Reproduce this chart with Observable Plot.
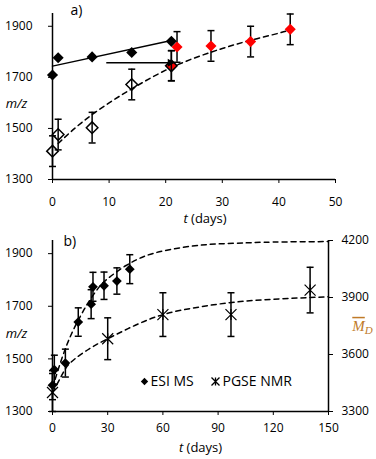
<!DOCTYPE html>
<html><head><meta charset="utf-8">
<script src="https://cdn.jsdelivr.net/npm/d3@7"></script>
<script src="https://cdn.jsdelivr.net/npm/@observablehq/plot@0.6"></script>
<style>
body{margin:0;background:#fff;}
#chart{width:376px;}
#chart svg{display:block;}
</style></head><body><div id="chart"></div>
<script>
// ---------- Panel a ----------
const aTicksX = [0, 10, 20, 30, 40, 50];
const aTicksY = [1300, 1500, 1700, 1900];
const aBlackT = [0, 1, 7, 14, 21];
const aBlackM = [1709, 1777, 1780, 1797, 1841];
const aLineT = [0, 21];
const aLineM = [1744, 1844];
const aOpenT = [0, 1, 7, 14, 21];
const aOpenM = [1411, 1476, 1503, 1672, 1745];
const aOpenErr = [60, 60, 60, 60, 59];
const aRedT = [21, 22, 28, 35, 42];
const aRedM = [1746, 1819, 1823, 1840, 1888];
const aRedErr = [59, 60, 60, 60, 60];
const aArrowT = [9.5, 21.3];
const aArrowM = [1757, 1757];
const aFitT = [1, 5, 10, 15, 20, 25, 30, 35, 40, 42];
const aFitM = [1441, 1520, 1600, 1668, 1728, 1775, 1813, 1845, 1873, 1886];

// ---------- Panel b ----------
const bTicksX = [0, 30, 60, 90, 120, 150];
const bTicksY = [1300, 1500, 1700, 1900];
const bTicksR = [3300, 3600, 3900, 4200];
const esiT = [0, 1, 7, 14, 21, 22, 28, 35, 42];
const esiM = [1400, 1459, 1484, 1640, 1708, 1774, 1778, 1796, 1841];
const esiErr = [55, 55, 53, 54, 55, 55, 52, 50, 55];
const nmrT = [0, 30, 60, 97, 140];
const nmrM = [3400, 3683, 3810, 3810, 3939];
const nmrErr = [100, 110, 115, 115, 120];
const esiFitT = [0, 5, 10, 15, 20, 25, 30, 40, 50, 60, 75, 90, 105, 120, 150];
const esiFitM = [1390, 1500, 1590, 1660, 1720, 1770, 1805, 1855, 1890, 1910, 1928, 1937, 1941, 1944, 1946];
const nmrFitT = [0, 5, 10, 20, 30, 45, 60, 75, 90, 105, 120, 135, 150];
const nmrFitM = [3400, 3490, 3559, 3630, 3683, 3754, 3810, 3842, 3865, 3881, 3891, 3898, 3904];

const rows = (ts, ms, es) => ts.map((t, i) => ({t, m: ms[i], e: es ? es[i] : 0}));
// right axis (M_D) mapped onto left (m/z) scale
const toLeft = v => 1300 + (v - 3300) * (650 / 900);
const toRight = v => 3300 + (v - 1300) * (900 / 650);

const font = "'Open Sans', sans-serif";
const capSym = {draw(ctx, size) { const r = Math.sqrt(size / Math.PI); ctx.moveTo(-r, 0); ctx.lineTo(r, 0); }};
const starSym = {draw(ctx, size) { const r = Math.sqrt(size / Math.PI);
  ctx.moveTo(-r, -r); ctx.lineTo(r, r); ctx.moveTo(-r, r); ctx.lineTo(r, -r); ctx.moveTo(0, -r); ctx.lineTo(0, r); }};

function errorMarks(data, yf) {
  const f = yf || (v => v);
  return [
    Plot.ruleX(data, {x: "t", y1: d => f(d.m - d.e), y2: d => f(d.m + d.e), stroke: "black", strokeWidth: 1.5}),
    Plot.dot(data, {x: "t", y: d => f(d.m + d.e), symbol: capSym, r: 3.5, stroke: "black", strokeWidth: 1.5, fill: "none"}),
    Plot.dot(data, {x: "t", y: d => f(d.m - d.e), symbol: capSym, r: 3.5, stroke: "black", strokeWidth: 1.5, fill: "none"})
  ];
}

const aBlack = rows(aBlackT, aBlackM);
const aLine = rows(aLineT, aLineM);
const aOpen = rows(aOpenT, aOpenM, aOpenErr);
const aRed = rows(aRedT, aRedM, aRedErr);
const aFit = rows(aFitT, aFitM);
const aArrow = [{t1: aArrowT[0], t2: aArrowT[1], m1: aArrowM[0], m2: aArrowM[1]}];

const plotA = Plot.plot({
  width: 376, height: 228, marginLeft: 52, marginRight: 41, marginTop: 13, marginBottom: 49,
  style: {fontFamily: font, fontSize: "12px", background: "white", color: "black"},
  x: {domain: [0, 50], ticks: aTicksX, tickSize: 4, tickPadding: 14, label: null, tickFormat: d => String(d)},
  y: {domain: [1300, 1950], ticks: aTicksY, tickSize: 4, tickPadding: 16, label: null, tickFormat: d => String(d)},
  marks: [
    Plot.ruleX([0], {strokeWidth: 1.5}),
    Plot.ruleY([1300], {strokeWidth: 1.5}),
    Plot.line(aFit, {x: "t", y: "m", curve: "natural", stroke: "black", strokeDasharray: "5,4", strokeWidth: 1.5}),
    Plot.line(aLine, {x: "t", y: "m", stroke: "black", strokeWidth: 1.5}),
    Plot.link(aArrow, {x1: "t1", x2: "t2", y1: "m1", y2: "m2", stroke: "black", strokeWidth: 1.5}),
    ...errorMarks(aRed),
    Plot.dot(aRed, {x: "t", y: "m", symbol: "diamond2", r: 5, fill: "#ff0000"}),
    ...errorMarks(aOpen),
    Plot.dot(aOpen, {x: "t", y: "m", symbol: "diamond2", r: 5.2, fill: "none", stroke: "black", strokeWidth: 1.5}),
    Plot.dot(aArrow, {x: "t2", y: "m2", symbol: "triangle2", rotate: 90, r: 3.8, fill: "black", dx: -3}),
    Plot.dot(aBlack, {x: "t", y: "m", symbol: "diamond2", r: 5, fill: "black"}),
    Plot.text(["m/z"], {frameAnchor: "left", dx: -36, dy: 7, fontStyle: "italic", fontSize: 13, textAnchor: "middle"}),
    Plot.text(["t (days)"], {frameAnchor: "bottom", lineAnchor: "middle", dx: 11, dy: 39, fontSize: 13}),
    Plot.text(["a)"], {frameAnchor: "top-left", lineAnchor: "middle", textAnchor: "start", dx: 18, dy: -2.5, fontSize: 14})
  ]
});

const esi = rows(esiT, esiM, esiErr);
const nmr = rows(nmrT, nmrM, nmrErr);
const esiFit = rows(esiFitT, esiFitM);
const nmrFit = rows(nmrFitT, nmrFitM);

const plotB = Plot.plot({
  width: 376, height: 231, marginLeft: 52, marginRight: 48, marginTop: 12, marginBottom: 48,
  style: {fontFamily: font, fontSize: "12px", background: "white", color: "black"},
  x: {domain: [0, 150], ticks: bTicksX, tickSize: 4, tickPadding: 8, label: null, tickFormat: d => String(d)},
  y: {domain: [1300, 1950], label: null},
  marks: [
    Plot.axisY(bTicksY, {anchor: "left", tickSize: 4, tickPadding: 16, label: null, tickFormat: d => String(d)}),
    Plot.axisY(bTicksR.map(toLeft), {anchor: "right", tickSize: 4, tickPadding: 9, label: null,
      tickFormat: d => String(Math.round(toRight(d)))}),
    Plot.ruleX([0], {strokeWidth: 1.5}),
    Plot.ruleX([150], {strokeWidth: 1.5}),
    Plot.ruleY([1300], {strokeWidth: 1.5}),
    Plot.line(esiFit, {x: "t", y: "m", curve: "natural", stroke: "black", strokeDasharray: "5,4", strokeWidth: 1.5}),
    Plot.line(nmrFit, {x: "t", y: d => toLeft(d.m), curve: "natural", stroke: "black", strokeDasharray: "5,4", strokeWidth: 1.5}),
    ...errorMarks(nmr, toLeft),
    Plot.dot(nmr, {x: "t", y: d => toLeft(d.m), symbol: starSym, r: 5.5, stroke: "black", strokeWidth: 1.2, fill: "none"}),
    ...errorMarks(esi),
    Plot.dot(esi, {x: "t", y: "m", symbol: "diamond2", r: 4.4, fill: "black"}),
    // legend
    Plot.dot([0], {frameAnchor: "bottom-left", dx: 92, dy: -30, symbol: "diamond2", r: 3.3, fill: "black"}),
    Plot.text(["ESI MS"], {frameAnchor: "bottom-left", lineAnchor: "middle", textAnchor: "start", dx: 98, dy: -30, fontSize: 14}),
    Plot.dot([0], {frameAnchor: "bottom-left", dx: 163, dy: -30, symbol: starSym, r: 4, stroke: "black", strokeWidth: 1.3, fill: "none"}),
    Plot.text(["PGSE NMR"], {frameAnchor: "bottom-left", lineAnchor: "middle", textAnchor: "start", dx: 170, dy: -30, fontSize: 14}),
    // labels
    Plot.text(["m/z"], {frameAnchor: "left", dx: -36, dy: 8, fontStyle: "italic", fontSize: 13, textAnchor: "middle"}),
    Plot.text(["MD"], {frameAnchor: "right", dx: 34, dy: 0, fontSize: 15, textAnchor: "middle", fill: "#c07a28", fontFamily: "'Liberation Serif', serif"}),
    Plot.text(["t (days)"], {frameAnchor: "bottom", lineAnchor: "middle", dx: 10, dy: 36, fontSize: 13}),
    Plot.text(["b)"], {frameAnchor: "top-left", lineAnchor: "middle", textAnchor: "start", dx: 11, dy: 1, fontSize: 14})
  ]
});

const host = document.getElementById("chart");
host.appendChild(plotA);
host.appendChild(plotB);

// mixed-style labels
d3.selectAll("#chart text").each(function() {
  const el = d3.select(this);
  const txt = this.textContent;
  if (txt === "t (days)") {
    el.text(null);
    el.append("tspan").attr("font-style", "italic").text("t");
    el.append("tspan").text(" (days)");
  } else if (txt === "MD") {
    el.text(null);
    el.append("tspan").attr("font-style", "italic").style("text-decoration", "overline").text("M");
    el.append("tspan").attr("font-style", "italic").attr("font-size", 11).attr("dy", "0.3em").text("D");
  }
});
</script>
</body></html>
